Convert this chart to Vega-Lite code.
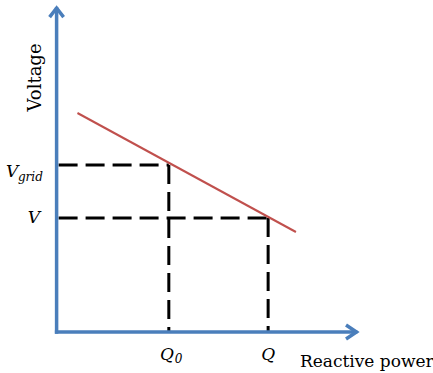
{
  "$schema": "https://vega.github.io/schema/vega-lite/v6.json",
  "width": 433,
  "height": 373,
  "autosize": {"type": "fit", "contains": "padding"},
  "padding": 0,
  "background": "white",
  "config": {"view": {"stroke": null}},
  "encoding": {
    "x": {"field": "x", "type": "quantitative", "scale": {"domain": [-5.7, 37.6], "nice": false, "zero": false}, "axis": null},
    "y": {"field": "y", "type": "quantitative", "scale": {"domain": [-4.1, 33.2], "nice": false, "zero": false}, "axis": null}
  },
  "layer": [
    {
      "data": {"values": [
        {"x": 0.2, "y": 16.7, "x2": 11.3, "y2": 16.7},
        {"x": 11.3, "y": 16.7, "x2": 11.3, "y2": 0},
        {"x": 0.2, "y": 11.4, "x2": 21.3, "y2": 11.4},
        {"x": 21.3, "y": 11.4, "x2": 21.3, "y2": 0}
      ]},
      "mark": {"type": "rule", "color": "black", "strokeWidth": 3, "strokeDash": [19, 8]},
      "encoding": {"x2": {"field": "x2"}, "y2": {"field": "y2"}}
    },
    {
      "data": {"values": [
        {"x": 2.1, "y": 21.9, "x2": 24.1, "y2": 10.0}
      ]},
      "mark": {"type": "rule", "color": "#C0504D", "strokeWidth": 2},
      "encoding": {"x2": {"field": "x2"}, "y2": {"field": "y2"}}
    },
    {
      "data": {"values": [
        {"x": 0, "y": 0, "x2": 0, "y2": 32.3},
        {"x": 0, "y": 0, "x2": 30.1, "y2": 0}
      ]},
      "mark": {"type": "rule", "color": "#4A7EBB", "strokeWidth": 3.5, "strokeCap": "square"},
      "encoding": {"x2": {"field": "x2"}, "y2": {"field": "y2"}}
    },
    {
      "data": {"values": [{"x": 0, "y": 32.4}]},
      "mark": {"type": "point", "shape": "M-1,1.3L0,0L1,1.3", "size": 196, "filled": false, "stroke": "#4A7EBB", "strokeWidth": 3.5, "opacity": 1}
    },
    {
      "data": {"values": [{"x": 30.2, "y": 0}]},
      "mark": {"type": "point", "shape": "M-1.5,-1L0,0L-1.5,1", "size": 196, "filled": false, "stroke": "#4A7EBB", "strokeWidth": 3.5, "opacity": 1}
    },
    {
      "data": {"values": [{"x": -1.6, "y": 25.45, "label": "Voltage"}]},
      "mark": {"type": "text", "font": "DejaVu Serif", "fontSize": 18, "angle": 270, "align": "center", "baseline": "alphabetic", "color": "black"},
      "encoding": {"text": {"field": "label"}}
    },
    {
      "data": {"values": [{"x": 24.5, "y": -3.5, "label": "Reactive power"}]},
      "mark": {"type": "text", "font": "DejaVu Serif", "fontSize": 17, "align": "left", "baseline": "alphabetic", "color": "black"},
      "encoding": {"text": {"field": "label"}}
    },
    {
      "data": {"values": [
        {"x": -5.1, "y": 15.5, "label": "V"},
        {"x": -2.9, "y": 10.9, "label": "V"},
        {"x": 10.4, "y": -2.8, "label": "Q"},
        {"x": 20.6, "y": -2.8, "label": "Q"}
      ]},
      "mark": {"type": "text", "font": "DejaVu Serif", "fontStyle": "italic", "fontSize": 17, "align": "left", "baseline": "alphabetic", "color": "black"},
      "encoding": {"text": {"field": "label"}}
    },
    {
      "data": {"values": [
        {"x": -3.9, "y": 15.1, "label": "grid"},
        {"x": 11.9, "y": -3.1, "label": "0"}
      ]},
      "mark": {"type": "text", "font": "DejaVu Serif", "fontStyle": "italic", "fontSize": 12, "align": "left", "baseline": "alphabetic", "color": "black"},
      "encoding": {"text": {"field": "label"}}
    }
  ]
}
